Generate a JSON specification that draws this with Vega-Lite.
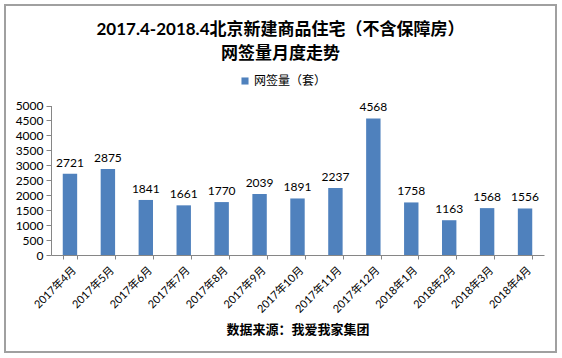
{
  "$schema": "https://vega.github.io/schema/vega-lite/v6.json",
  "autosize": "none",
  "width": 551,
  "height": 347,
  "padding": {"left": 5, "top": 5, "right": 6, "bottom": 6},
  "background": "white",
  "config": {
    "view": {"stroke": "#a0a0a0", "strokeWidth": 2},
    "font": "Lato, Noto Sans CJK SC"
  },
  "title": {
    "text": ["2017.4-2018.4北京新建商品住宅（不含保障房）", "网签量月度走势"],
    "anchor": "middle",
    "frame": "group",
    "orient": "top",
    "offset": -58,
    "fontSize": 17,
    "fontWeight": "bold",
    "lineHeight": 24,
    "color": "#000000",
    "font": "Lato, Noto Sans CJK SC"
  },
  "data": {
    "values": [
      {"month": "2017年4月", "value": 2721, "series": "网签量（套）"},
      {"month": "2017年5月", "value": 2875, "series": "网签量（套）"},
      {"month": "2017年6月", "value": 1841, "series": "网签量（套）"},
      {"month": "2017年7月", "value": 1661, "series": "网签量（套）"},
      {"month": "2017年8月", "value": 1770, "series": "网签量（套）"},
      {"month": "2017年9月", "value": 2039, "series": "网签量（套）"},
      {"month": "2017年10月", "value": 1891, "series": "网签量（套）"},
      {"month": "2017年11月", "value": 2237, "series": "网签量（套）"},
      {"month": "2017年12月", "value": 4568, "series": "网签量（套）"},
      {"month": "2018年1月", "value": 1758, "series": "网签量（套）"},
      {"month": "2018年2月", "value": 1163, "series": "网签量（套）"},
      {"month": "2018年3月", "value": 1568, "series": "网签量（套）"},
      {"month": "2018年4月", "value": 1556, "series": "网签量（套）"}
    ]
  },
  "encoding": {
    "x": {
      "field": "month",
      "type": "nominal",
      "sort": null,
      "scale": {"range": [46, 539], "paddingInner": 0.62, "paddingOuter": 0.31},
      "axis": {
        "offset": -97,
        "labelAngle": -45,
        "labelFontSize": 11,
        "labelColor": "#000000",
        "labelPadding": 5,
        "tickBand": "extent",
        "tickSize": 4,
        "tickColor": "#868686",
        "domainColor": "#868686",
        "title": "数据来源：我爱我家集团",
        "titleFontSize": 13,
        "titleFontWeight": "bold",
        "titleColor": "#000000",
        "titleY": 74,
        "titleBaseline": "middle"
      }
    },
    "y": {
      "field": "value",
      "type": "quantitative",
      "scale": {"domain": [0, 5000], "range": [250, 100.5], "nice": false},
      "axis": {
        "offset": -46,
        "values": [0, 500, 1000, 1500, 2000, 2500, 3000, 3500, 4000, 4500, 5000],
        "format": "d",
        "grid": false,
        "title": null,
        "labelFontSize": 12,
        "labelColor": "#000000",
        "labelPadding": 3,
        "tickSize": 5,
        "tickColor": "#868686",
        "domainColor": "#868686"
      }
    }
  },
  "layer": [
    {
      "mark": {"type": "bar"},
      "encoding": {
        "color": {
          "field": "series",
          "type": "nominal",
          "scale": {"range": ["#4f81bd"]},
          "legend": {
            "title": null,
            "orient": "none",
            "legendX": 234,
            "legendY": 70,
            "symbolType": "square",
            "symbolSize": 50,
            "labelFontSize": 12,
            "labelColor": "#000000",
            "labelOffset": 3
          }
        }
      }
    },
    {
      "mark": {"type": "text", "baseline": "alphabetic", "dy": -7, "fontSize": 12, "color": "#000000"},
      "encoding": {"text": {"field": "value", "type": "quantitative", "format": "d"}}
    }
  ]
}
